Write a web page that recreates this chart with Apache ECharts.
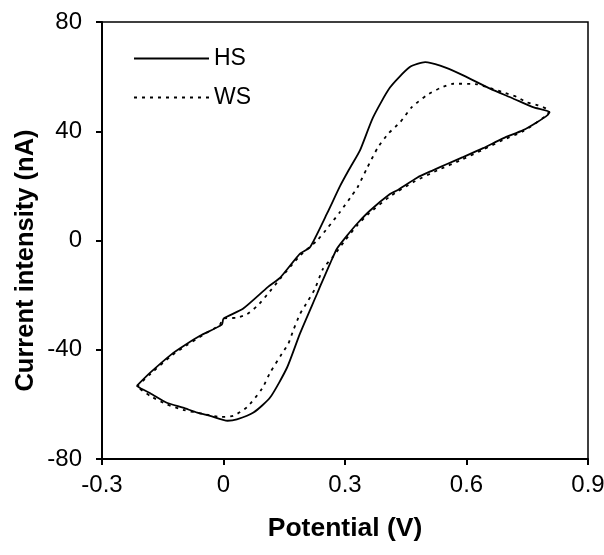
<!DOCTYPE html>
<html>
<head>
<meta charset="utf-8">
<script src="https://cdn.jsdelivr.net/npm/echarts@6/dist/echarts.min.js"></script>
<style>
html, body { margin: 0; padding: 0; background: #fff; }
#main { width: 604px; height: 555px; }
</style>
</head>
<body>
<div id="main"></div>
<script>
// potential (V) and current (nA)
var hsV = [-0.214, -0.181, -0.127, -0.090, -0.058, -0.004, 0.000, 0.048, 0.110, 0.140, 0.189, 0.213, 0.256, 0.288, 0.310, 0.337, 0.369, 0.411, 0.460, 0.498, 0.535, 0.584, 0.658, 0.715, 0.764, 0.805,
           0.800, 0.774, 0.740, 0.690, 0.641, 0.591, 0.552, 0.517, 0.478, 0.428, 0.411, 0.362, 0.332, 0.305, 0.280, 0.263, 0.238, 0.231, 0.189, 0.157, 0.115, 0.074, 0.033, 0.010, -0.033, -0.065, -0.100, -0.140, -0.180, -0.206, -0.214];
var hsI = [-53.2, -48.4, -41.5, -37.8, -34.9, -30.8, -28.6, -25.0, -17.0, -13.6, -4.8, -2.6, 10.0, 20.0, 26.0, 33.0, 45.0, 56.0, 63.5, 65.3, 64.0, 61.0, 55.6, 52.0, 48.8, 47.0,
           45.9, 43.3, 40.4, 37.4, 33.8, 30.5, 28.0, 25.7, 23.0, 18.3, 17.0, 11.0, 6.5, 1.8, -3.0, -8.5, -17.0, -19.5, -34.0, -46.5, -57.5, -63.0, -65.5, -66.0, -64.2, -63.0, -61.2, -59.4, -56.0, -54.0, -53.2];

var wsV = [-0.214, -0.180, -0.127, -0.090, -0.050, -0.010, 0.000, 0.033, 0.058, 0.083, 0.107, 0.140, 0.189, 0.231, 0.258, 0.288, 0.317, 0.330, 0.354, 0.381, 0.406, 0.436, 0.465, 0.502, 0.535, 0.567, 0.626, 0.658, 0.690, 0.725, 0.749, 0.777, 0.805,
           0.795, 0.740, 0.690, 0.640, 0.590, 0.530, 0.470, 0.410, 0.360, 0.330, 0.300, 0.270, 0.246, 0.226, 0.209, 0.189, 0.172, 0.160, 0.144, 0.115, 0.095, 0.058, 0.024, -0.008, -0.050, -0.100, -0.140, -0.180, -0.214];
var wsI = [-53.5, -48.8, -42.0, -38.3, -34.5, -31.0, -28.5, -28.3, -27.0, -24.0, -20.0, -14.0, -5.5, 0.0, 4.8, 10.5, 16.5, 19.2, 26.4, 34.0, 39.0, 43.3, 48.8, 53.2, 55.8, 57.4, 57.2, 55.8, 54.3, 52.5, 50.6, 49.5, 47.5,
           45.5, 40.0, 36.8, 33.2, 29.7, 25.8, 21.5, 16.0, 10.0, 5.5, 0.0, -6.0, -10.3, -17.6, -22.0, -26.9, -33.0, -37.8, -41.5, -48.4, -54.3, -61.0, -64.2, -64.6, -63.5, -62.0, -60.0, -57.0, -53.5];

var seriesNames = ['HS', 'WS'];

function pairs(xs, ys) {
    var out = [];
    for (var i = 0; i < xs.length; i++) {
        out.push([xs[i], ys[i]]);
    }
    return out;
}

var font = 'Liberation Sans, Arial, sans-serif';
var chart = echarts.init(document.getElementById('main'));

var option = {
    animation: false,
    backgroundColor: '#fff',
    textStyle: { fontFamily: font, color: '#000' },
    grid: { left: 102, right: 16, top: 22, bottom: 96, outerBoundsMode: 'none', show: true, borderColor: '#000', borderWidth: 1.5 },
    legend: {
        orient: 'vertical',
        left: 133,
        top: 47,
        padding: 0,
        itemWidth: 75,
        itemHeight: 14,
        itemGap: 16,
        itemTextGap: 5,
        itemStyle: { opacity: 0 },
        textStyle: { fontSize: 23, color: '#000', fontFamily: font },
        data: seriesNames
    },
    xAxis: {
        type: 'value',
        min: -0.3,
        max: 0.9,
        interval: 0.3,
        name: 'Potential (V)',
        nameLocation: 'middle',
        nameGap: 56,
        nameMoveOverlap: false,
        nameTextStyle: { fontSize: 26.5, fontWeight: 'bold', color: '#000' },
        axisLine: { onZero: false, lineStyle: { color: '#000', width: 2 } },
        axisTick: { inside: false, length: 6, lineStyle: { color: '#000', width: 2 } },
        axisLabel: { fontSize: 24, color: '#000', margin: 14, formatter: function (v) { return String(Math.round(v * 10) / 10); } },
        splitLine: { show: false }
    },
    yAxis: {
        type: 'value',
        min: -80,
        max: 80,
        interval: 40,
        name: 'Current intensity (nA)',
        nameLocation: 'middle',
        nameGap: 63,
        nameMoveOverlap: false,
        nameTextStyle: { fontSize: 25.5, fontWeight: 'bold', color: '#000', padding: [0, 40, 0, 0] },
        axisLine: { onZero: false, lineStyle: { color: '#000', width: 2 } },
        axisTick: { inside: false, length: 6, lineStyle: { color: '#000', width: 2 } },
        axisLabel: { fontSize: 24, color: '#000', margin: 20 },
        splitLine: { show: false }
    },
    series: [
        {
            name: 'HS',
            type: 'line',
            symbol: 'none',
            smooth: 0.2,
            data: pairs(hsV, hsI),
            lineStyle: { color: '#000', width: 1.8 },
            itemStyle: { color: '#000' }
        },
        {
            name: 'WS',
            type: 'line',
            symbol: 'none',
            smooth: 0.2,
            data: pairs(wsV, wsI),
            lineStyle: { color: '#000', width: 1.8, type: [3, 5] },
            itemStyle: { color: '#000' }
        }
    ]
};
chart.setOption(option);
</script>
</body>
</html>
